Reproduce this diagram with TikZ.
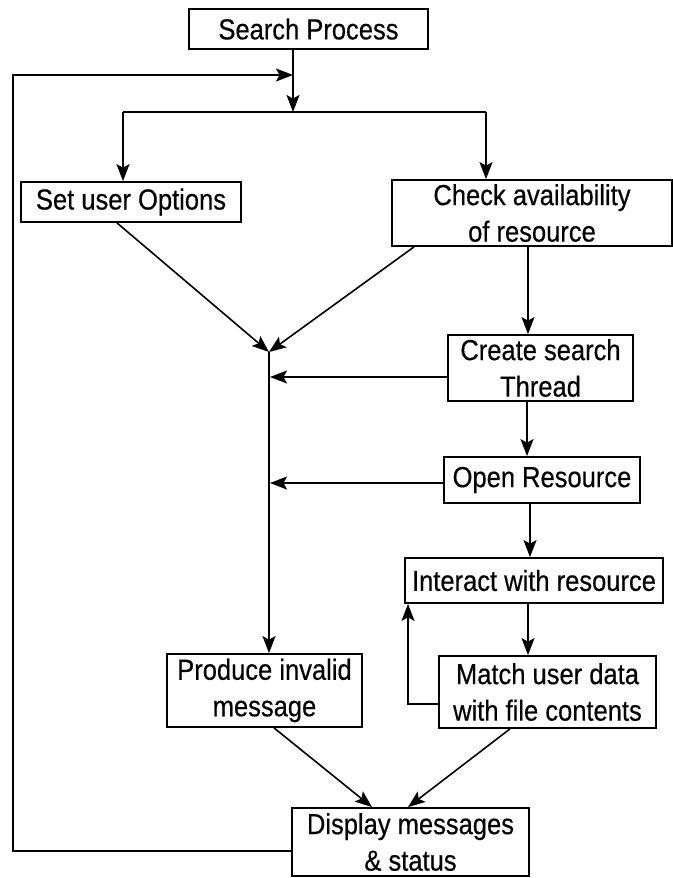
\documentclass[tikz,border=0pt]{standalone}
\usepackage{fontspec}
\newfontfamily\boxfont{Liberation Sans}[FakeStretch=0.88,FakeBold=0.4]
\usetikzlibrary{arrows.meta}
\tikzset{
  box/.style={draw, line width=1.8pt, inner sep=0pt, align=center,
              font=\boxfont\fontsize{29}{36.5}\selectfont},
  conn/.style={line width=1.6pt},
  arr/.style={conn, -{Stealth[length=17pt,width=13pt,inset=3.5pt]}}
}
\begin{document}
\begin{tikzpicture}[x=1pt,y=-1pt]
\useasboundingbox (0,0) rectangle (672,878);

% process boxes
\node[box, minimum width=239pt, minimum height=40pt] (sp)  at (308.5,29) {Search Process};
\node[box, minimum width=220pt, minimum height=40pt] (opt) at (131,202) {Set user Options};
\node[box, minimum width=280pt, minimum height=66pt] (chk) at (532,213) {Check availability\\of resource};
\node[box, minimum width=185pt, minimum height=66pt] (thr) at (540.5,368) {Create search\\Thread};
\node[box, minimum width=196pt, minimum height=46pt] (opn) at (542,480) {Open Resource};
\node[box, minimum width=258pt, minimum height=45pt] (act) at (534,580.5) {Interact with resource};
\node[box, minimum width=217pt, minimum height=72pt] (mat) at (547.5,692) {Match user data\\with file contents};
\node[box, minimum width=195pt, minimum height=73pt] (inv) at (264.5,690.5) {Produce invalid\\message};
\node[box, minimum width=237pt, minimum height=68pt] (dsp) at (410.5,842) {Display messages\\\& status};

% junction points
\coordinate (loop) at (293,75);
\coordinate (fork) at (293,112);
\coordinate (forkL) at (123,112);
\coordinate (forkR) at (486,112);
\coordinate (merge) at (269,352);
\coordinate (left) at (13,851);

% start and fork
\draw[arr] (sp.south -| loop) -- (fork);
\draw[conn] (forkL) -- (forkR);
\draw[arr] (forkL) -- (opt.north -| forkL);
\draw[arr] (forkR) -- (chk.north -| forkR);

% lines converging on the invalid-message branch
\draw[arr] (opt.south -| 117,0) -- (merge);
\draw[arr] (chk.south -| 414,0) -- (merge);
\draw[arr] (merge) -- (inv.north -| merge);
\draw[arr] (thr.west |- 0,377) -- (270,377);
\draw[arr] (opn.west |- 0,483) -- (270,483);

% main resource chain
\draw[arr] (chk.south -| 528,0) -- (thr.north -| 528,0);
\draw[arr] (thr.south -| 527,0) -- (opn.north -| 527,0);
\draw[arr] (opn.south -| 530,0) -- (act.north -| 530,0);
\draw[arr] (act.south -| 528,0) -- (mat.north -| 528,0);
\draw[arr] (mat.west |- 0,704) -- (408,704) -- (act.south -| 408,0);

% results to display
\draw[arr] (inv.south -| 274,0) -- (dsp.north -| 372,0);
\draw[arr] (mat.south -| 510,0) -- (dsp.north -| 408,0);

% loop back to the start
\draw[arr] (dsp.west |- left) -- (left) -- (13,75) -- (loop);
\end{tikzpicture}
\end{document}
